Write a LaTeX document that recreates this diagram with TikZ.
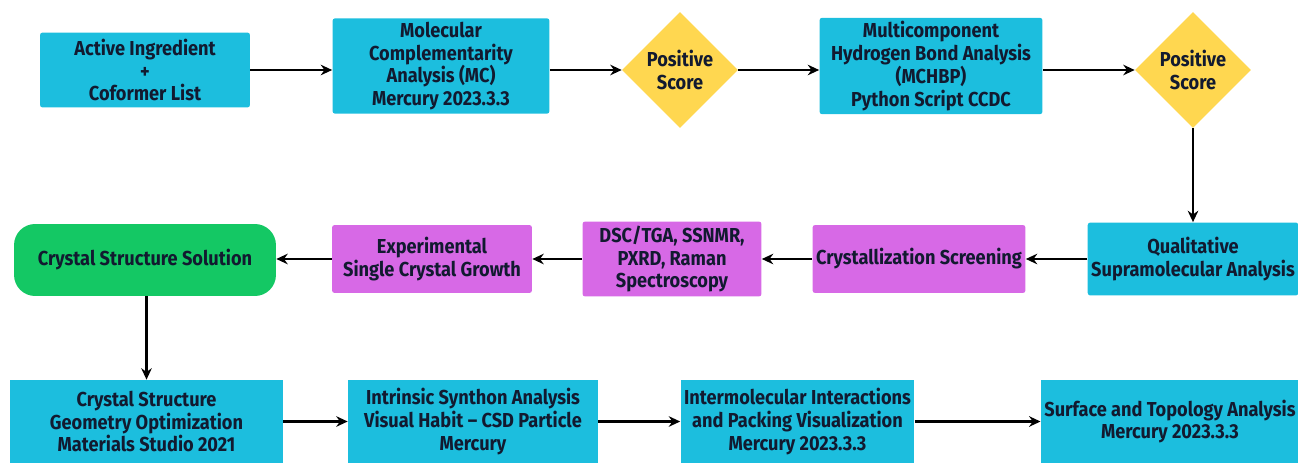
\documentclass[tikz,border=0pt]{standalone}
\usepackage{fontspec}
\setmainfont{Fira Sans}[FakeStretch=0.9]
\usetikzlibrary{shapes.geometric,arrows.meta}

\tikzset{
	procbox/.style={rectangle, rounded corners=1.5pt, fill=boxcyan, text=textnavy, align=center, inner sep=2pt},
	labbox/.style={rectangle, rounded corners=1.5pt, fill=boxpurple, text=textnavy, align=center, inner sep=2pt},
	solbox/.style={rectangle, rounded corners=12pt, fill=boxgreen, text=textnavy, align=center, inner sep=2pt},
	decision/.style={diamond, aspect=1, fill=boxyellow, text=textnavy, align=center, inner sep=0pt, minimum width=2.32cm, minimum height=2.32cm},
	flow/.style={-{Stealth[length=6.5pt,width=6pt]}, line width=1.4pt, black}
}

\begin{document}
\begin{tikzpicture}[x=0.02cm, y=-0.02cm, font=\fontsize{11.5}{13}\selectfont\bfseries]
		% Define colors
		\definecolor{boxcyan}{RGB}{28,190,222}
		\definecolor{boxpurple}{RGB}{215,105,230}
		\definecolor{boxgreen}{RGB}{20,200,100}
		\definecolor{boxyellow}{RGB}{255,215,80}
		\definecolor{textnavy}{RGB}{18,26,48}
		\useasboundingbox (0,0) rectangle (1298,463);
		% First row (screening)
		\node[procbox, minimum width=4.2cm, minimum height=1.5cm] (active) at (145,70) {Active Ingredient\\+\\Coformer List};
		\node[procbox, minimum width=4.34cm, minimum height=1.84cm] (mc) at (441,66) {Molecular\\Complementarity\\Analysis (MC)\\Mercury 2023.3.3};
		\node[decision] (score1) at (680,70) {Positive\\Score};
		\node[procbox, minimum width=4.46cm, minimum height=1.86cm] (mchbp) at (931,66) {Multicomponent\\Hydrogen Bond Analysis\\(MCHBP)\\Python Script CCDC};
		\node[decision] (score2) at (1193,70) {Positive\\Score};
		% Second row (experiments)
		\node[procbox, minimum width=4.2cm, minimum height=1.46cm] (qual) at (1193,259) {Qualitative\\Supramolecular Analysis};
		\node[labbox, minimum width=4.26cm, minimum height=1.36cm] (screen) at (919,259) {Crystallization Screening};
		\node[labbox, minimum width=3.58cm, minimum height=1.5cm] (dsc) at (672,259) {DSC/TGA, SSNMR,\\PXRD, Raman\\Spectroscopy};
		\node[labbox, minimum width=4cm, minimum height=1.36cm] (growth) at (432,259) {Experimental\\Single Crystal Growth};
		\node[solbox, minimum width=5.24cm, minimum height=1.44cm] (solution) at (145,260) {Crystal Structure Solution};
		% Third row (analysis)
		\node[procbox, rounded corners=0pt, minimum width=5.46cm, minimum height=1.66cm] (geom) at (146.5,421.5) {Crystal Structure\\Geometry Optimization\\Materials Studio 2021};
		\node[procbox, rounded corners=0pt, minimum width=5cm, minimum height=1.66cm] (synthon) at (473,421.5) {Intrinsic Synthon Analysis\\Visual Habit -- CSD Particle\\Mercury};
		\node[procbox, rounded corners=0pt, minimum width=4.46cm, minimum height=1.66cm] (packing) at (797.5,421.5) {Intermolecular Interactions\\and Packing Visualization\\Mercury 2023.3.3};
		\node[procbox, rounded corners=0pt, minimum width=5.12cm, minimum height=1.66cm] (surface) at (1170,421.5) {Surface and Topology Analysis\\Mercury 2023.3.3};
		% Arrows
		\draw[flow] (active.east) -- (mc.west |- active.east);
		\draw[flow] (mc.east |- score1) -- (score1.west);
		\draw[flow] (score1.east) -- (mchbp.west |- score1.east);
		\draw[flow] (mchbp.east |- score2) -- (score2.west);
		\draw[flow] (score2.south) -- (qual.north);
		\draw[flow] (qual.west) -- (screen.east);
		\draw[flow] (screen.west) -- (dsc.east);
		\draw[flow] (dsc.west) -- (growth.east);
		\draw[flow] (growth.west) -- (solution.east |- growth.west);
		\draw[flow] (geom.north |- solution.south) -- (geom.north);
		\draw[flow] (geom.east) -- (synthon.west);
		\draw[flow] (synthon.east) -- (packing.west);
		\draw[flow] (packing.east) -- (surface.west);
	\end{tikzpicture}
\end{document}
